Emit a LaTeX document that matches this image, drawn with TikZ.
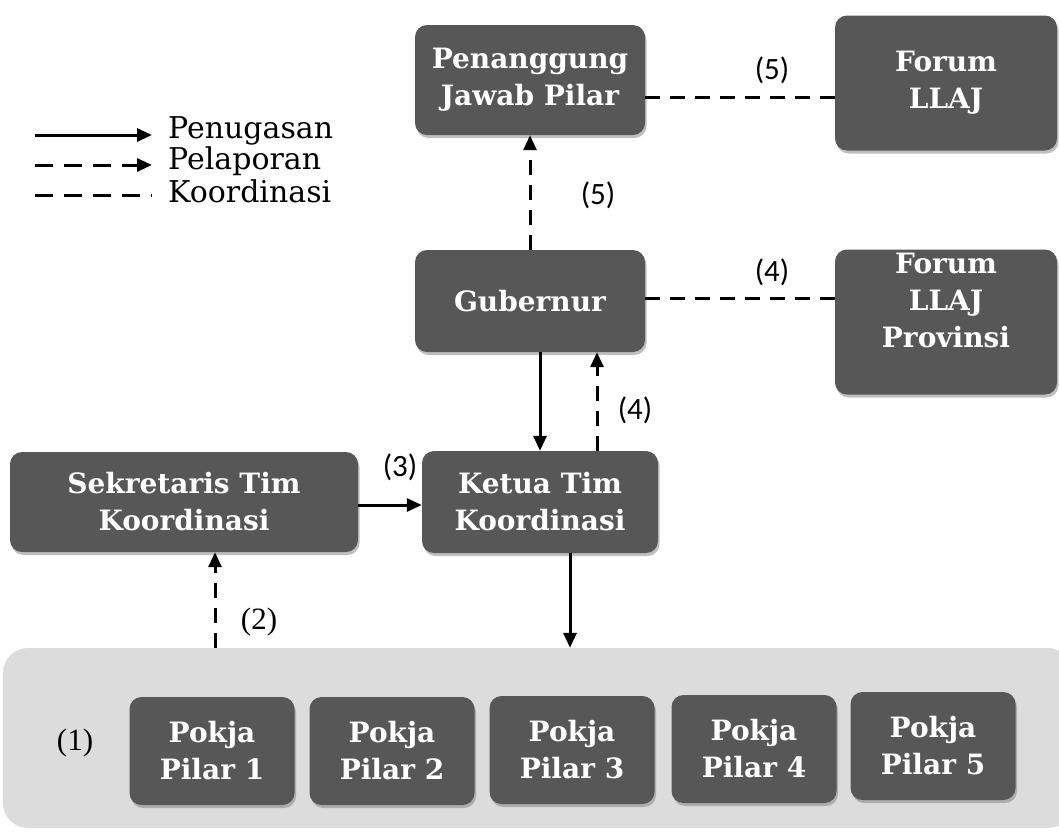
\documentclass[tikz,border=0pt]{standalone}
\usepackage{fontspec}
\setmainfont{DejaVu Serif}
\newfontfamily\labsans{Carlito}
\newfontfamily\labserif{Liberation Serif}
\usetikzlibrary{arrows.meta,shadows}
\definecolor{boxgray}{HTML}{575757}
\definecolor{contgray}{HTML}{DCDCDC}
\begin{document}
\begin{tikzpicture}[x=1pt,y=-1pt,
  box/.style={rounded corners=12pt, fill=boxgray, draw=none, text=white,
    font=\bfseries\fontsize{28}{37}\selectfont, align=center, inner sep=0pt,
    drop shadow={shadow xshift=1.5pt, shadow yshift=-3pt, opacity=0.5}},
  boxtext/.style={text=white, font=\bfseries\fontsize{28}{37}\selectfont, align=center, inner sep=0pt},
  ln/.style={line width=3pt},
  arr/.style={-{Triangle[length=15pt,width=13pt]}},
  dsh/.style={dash pattern=on 15pt off 10pt},
  legtext/.style={font=\fontsize{30}{30}\selectfont, anchor=west, inner sep=0pt},
  numsans/.style={font=\labsans\fontsize{31}{31}\selectfont, inner sep=0pt},
  numserif/.style={font=\labserif\fontsize{31}{31}\selectfont, inner sep=0pt}
]
\useasboundingbox (0,0) rectangle (1059,831);
\fill[white] (0,0) rectangle (1059,831);

% legend
\coordinate (l1a) at (35,135); \coordinate (l1b) at (152,135);
\coordinate (l2a) at (35,165); \coordinate (l2b) at (152,165);
\coordinate (l3a) at (35,195); \coordinate (l3b) at (152,195);
\draw[ln,arr] (l1a) -- (l1b);
\draw[ln,arr,dash pattern=on 18pt off 11pt] (l2a) -- (l2b);
\draw[ln,dash pattern=on 18pt off 11pt] (l3a) -- (l3b);
\node[legtext] (lg1) at (168,131) {Penugasan};
\node[legtext] (lg2) at (168,161) {Pelaporan};
\node[legtext] (lg3) at (168,191) {Koordinasi};

% container
\node[rounded corners=25pt, fill=contgray, minimum width=1070pt, minimum height=180pt, inner sep=0pt] (cont) at (538,738) {};

% boxes
\node[box, minimum width=230pt, minimum height=110pt] (pj) at (530,80) {Penanggung\\Jawab Pilar};
\node[box, minimum width=222pt, minimum height=135pt] (fl) at (946,83) {Forum\\LLAJ};
\node[box, minimum width=230pt, minimum height=102pt] (gub) at (530,301) {Gubernur};
\node[box, minimum width=222pt, minimum height=145pt] (flp) at (946,322) {};
\node[boxtext] (flpt) at (946,300) {Forum\\LLAJ\\Provinsi};
\node[box, minimum width=348pt, minimum height=100pt] (sek) at (184,502) {Sekretaris Tim\\Koordinasi};
\node[box, minimum width=236pt, minimum height=102pt] (ket) at (540,502) {Ketua Tim\\Koordinasi};

\node[box, minimum width=165pt, minimum height=108pt] (p1) at (212,751) {Pokja\\Pilar 1};
\node[box, minimum width=165pt, minimum height=108pt] (p2) at (392,751) {Pokja\\Pilar 2};
\node[box, minimum width=165pt, minimum height=108pt] (p3) at (572,750) {Pokja\\Pilar 3};
\node[box, minimum width=165pt, minimum height=108pt] (p4) at (754,749) {Pokja\\Pilar 4};
\node[box, minimum width=165pt, minimum height=108pt] (p5) at (933,746) {Pokja\\Pilar 5};

% connectors
\coordinate (c5) at (0,97);
\draw[ln,dsh] (pj.east |- c5) -- (fl.west |- c5);
\coordinate (c4) at (0,298);
\draw[ln,dsh] (gub.east |- c4) -- (flp.west |- c4);
\draw[ln,dsh,arr] (gub.north) -- (pj.south);
\coordinate (x1) at (540,0);
\coordinate (x2) at (597,0);
\draw[ln,arr] (gub.south -| x1) -- (ket.north -| x1);
\draw[ln,dsh,arr] (ket.north -| x2) -- (gub.south -| x2);
\coordinate (y3) at (0,505);
\draw[ln,arr] (sek.east |- y3) -- (ket.west |- y3);
\coordinate (x3) at (215,0);
\draw[ln,dsh,arr] (cont.north -| x3) -- (sek.south -| x3);
\coordinate (x4) at (570,0);
\draw[ln,arr] (ket.south -| x4) -- (cont.north -| x4);

% labels
\node[numsans] (n5a) at (772,70) {(5)};
\node[numsans] (n5b) at (598,195) {(5)};
\node[numsans] (n4a) at (772,272) {(4)};
\node[numsans] (n4b) at (635,410) {(4)};
\node[numsans] (n3) at (400,467) {(3)};
\node[numserif] (n2) at (259,622) {(2)};
\node[numserif] (n1) at (75,743) {(1)};
\end{tikzpicture}
\end{document}
